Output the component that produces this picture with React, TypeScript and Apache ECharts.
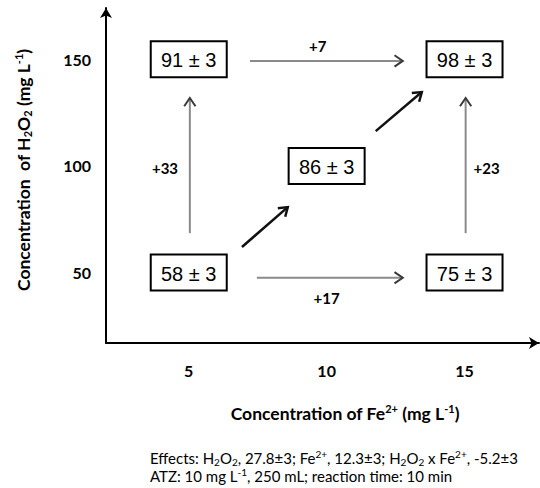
import React, { useEffect, useRef } from "react";
import * as echarts from "echarts";

// Factor levels
const xTicks = [5, 10, 15]; // Fe2+ (mg/L)
const yTicks = [50, 100, 150]; // H2O2 (mg/L)

// Design points: Fe2+, H2O2, removal (%), error
const cellFe = [5, 15, 10, 5, 15];
const cellH2O2 = [150, 150, 100, 50, 50];
const cellRemoval = [91, 98, 86, 58, 75];
const cellError = [3, 3, 3, 3, 3];

// Arrows between design points (data units): [x1, y1, x2, y2]
const arrowStart = [
  [7.22, 149.2],
  [7.47, 47.6],
  [5.04, 68.5],
  [15.04, 68.5],
  [6.93, 62],
  [11.78, 116.3],
];
const arrowEnd = [
  [12.76, 149.2],
  [12.76, 47.6],
  [5.04, 131.8],
  [15.04, 131.8],
  [8.59, 80.7],
  [13.45, 134.6],
];
const arrowDiagonal = [0, 0, 0, 0, 1, 1];

// Effect labels
const effectText = ["+7", "+17", "+33", "+23"];
const effectX = [9.68, 10.0, 4.14, 15.8];
const effectY = [156.4, 38.2, 99.2, 98.8];

const LATO = "Lato, 'Open Sans', sans-serif";

export default function App() {
  const ref = useRef<HTMLDivElement>(null);

  useEffect(() => {
    if (!ref.current) return;
    const chart = echarts.init(ref.current, null, { renderer: "svg" });

    const boxData = cellFe.map((x, i) => [x, cellH2O2[i], cellRemoval[i], cellError[i]]);
    const arrowData = arrowStart.map((s, i) => [s[0], s[1], arrowEnd[i][0], arrowEnd[i][1], arrowDiagonal[i]]);
    const effectData = effectText.map((t, i) => [effectX[i], effectY[i], t]);

    const titleRich = {
      b: { fontFamily: LATO, fontWeight: "bold", fontSize: 17.5, lineHeight: 20, fill: "#000", color: "#000" },
      sub: { fontFamily: LATO, fontWeight: "bold", fontSize: 11, lineHeight: 11, verticalAlign: "bottom", fill: "#000", color: "#000" },
      sup: { fontFamily: LATO, fontWeight: "bold", fontSize: 11, lineHeight: 11, verticalAlign: "top", fill: "#000", color: "#000" },
    };
    const noteRich = {
      r: { fontFamily: LATO, fontSize: 15, lineHeight: 18, fill: "#000", color: "#000" },
      sub: { fontFamily: LATO, fontSize: 10, lineHeight: 10, verticalAlign: "bottom", fill: "#000", color: "#000" },
      sup: { fontFamily: LATO, fontSize: 10, lineHeight: 10, verticalAlign: "top", fill: "#000", color: "#000" },
    };

    const option: any = {
      animation: false,
      backgroundColor: "#fff",
      grid: { left: 106, top: 8, right: 1, bottom: 145, containLabel: false },
      xAxis: {
        type: "value",
        min: 2,
        max: 17.7,
        splitLine: { show: false },
        axisTick: { show: false },
        axisLine: {
          show: true,
          symbol: ["none", "arrow"],
          symbolSize: [9, 10],
          lineStyle: { color: "#000", width: 2 },
        },
        axisLabel: {
          customValues: xTicks,
          margin: 19,
          fontFamily: LATO,
          fontWeight: "bold",
          fontSize: 16,
          color: "#000",
        },
      },
      yAxis: {
        type: "value",
        min: 17,
        max: 174,
        splitLine: { show: false },
        axisTick: { show: false },
        axisLine: {
          show: true,
          symbol: ["none", "arrow"],
          symbolSize: [9, 10],
          lineStyle: { color: "#000", width: 2 },
        },
        axisLabel: {
          customValues: yTicks,
          margin: 15,
          fontFamily: LATO,
          fontWeight: "bold",
          fontSize: 16,
          color: "#000",
        },
      },
      graphic: [
        {
          type: "text",
          x: 345,
          y: 413,
          style: {
            text: "{b|Concentration of Fe}{sup|2+}{b| (mg L}{sup|-1}{b|)}",
            align: "center",
            verticalAlign: "middle",
            textAlign: "center",
            textVerticalAlign: "middle",
            rich: titleRich,
          },
        },
        {
          type: "text",
          x: 23,
          y: 170,
          rotation: Math.PI / 2,
          style: {
            text: "{b|Concentration  of H}{sub|2}{b|O}{sub|2}{b| (mg L}{sup|-1}{b|)}",
            align: "center",
            verticalAlign: "middle",
            textAlign: "center",
            textVerticalAlign: "middle",
            rich: titleRich,
          },
        },
        {
          type: "text",
          x: 150,
          y: 458,
          style: {
            text: "{r|Effects: H}{sub|2}{r|O}{sub|2}{r|, 27.8±3; Fe}{sup|2+}{r|, 12.3±3; H}{sub|2}{r|O}{sub|2}{r| x Fe}{sup|2+}{r|, -5.2±3}",
            align: "left",
            verticalAlign: "middle",
            textAlign: "left",
            textVerticalAlign: "middle",
            rich: noteRich,
          },
        },
        {
          type: "text",
          x: 150,
          y: 476,
          style: {
            text: "{r|ATZ: 10 mg L}{sup|-1}{r|, 250 mL; reaction time: 10 min}",
            align: "left",
            verticalAlign: "middle",
            textAlign: "left",
            textVerticalAlign: "middle",
            rich: noteRich,
          },
        },
      ],
      series: [
        {
          type: "custom",
          name: "arrows",
          data: arrowData,
          encode: { x: [0, 2], y: [1, 3] },
          renderItem: (params: any, api: any) => {
            const p1 = api.coord([api.value(0), api.value(1)]);
            const p2 = api.coord([api.value(2), api.value(3)]);
            const diag = api.value(4) === 1;
            const ang = Math.atan2(p2[1] - p1[1], p2[0] - p1[0]);
            const L = 10;
            const spread = 0.6;
            const a1 = [p2[0] - L * Math.cos(ang - spread), p2[1] - L * Math.sin(ang - spread)];
            const a2 = [p2[0] - L * Math.cos(ang + spread), p2[1] - L * Math.sin(ang + spread)];
            const lineColor = diag ? "#111" : "#8a8a8a";
            const headColor = diag ? "#111" : "#3a3a3a";
            return {
              type: "group",
              children: [
                {
                  type: "line",
                  shape: { x1: p1[0], y1: p1[1], x2: p2[0], y2: p2[1] },
                  style: { stroke: lineColor, lineWidth: diag ? 2.5 : 2 },
                },
                {
                  type: "polyline",
                  shape: { points: [a1, p2, a2] },
                  style: { stroke: headColor, lineWidth: diag ? 2.5 : 2, fill: "none" },
                },
              ],
            };
          },
          z: 2,
        },
        {
          type: "custom",
          name: "cells",
          data: boxData,
          encode: { x: 0, y: 1 },
          renderItem: (params: any, api: any) => {
            const p = api.coord([api.value(0), api.value(1)]);
            const w = 76;
            const h = 36;
            return {
              type: "group",
              children: [
                {
                  type: "rect",
                  shape: { x: p[0] - w / 2, y: p[1] - h / 2, width: w, height: h },
                  style: { fill: "#fff", stroke: "#000", lineWidth: 2 },
                },
                {
                  type: "text",
                  style: {
                    text: `${api.value(2)} ± ${api.value(3)}`,
                    x: p[0],
                    y: p[1] + 1,
                    align: "center",
                    verticalAlign: "middle",
                    textAlign: "center",
                    textVerticalAlign: "middle",
                    fontFamily: "'Liberation Sans', Arial, sans-serif",
                    fontSize: 20,
                    fill: "#000",
                  },
                },
              ],
            };
          },
          z: 3,
        },
        {
          type: "custom",
          name: "effects",
          data: effectData,
          encode: { x: 0, y: 1 },
          renderItem: (params: any, api: any) => {
            const p = api.coord([api.value(0), api.value(1)]);
            return {
              type: "text",
              style: {
                text: effectText[params.dataIndex],
                x: p[0],
                y: p[1],
                align: "center",
                verticalAlign: "middle",
                textAlign: "center",
                textVerticalAlign: "middle",
                fontFamily: LATO,
                fontWeight: "bold",
                fontSize: 15,
                fill: "#000",
              },
            };
          },
          z: 4,
        },
      ],
    };

    chart.setOption(option);
    return () => chart.dispose();
  }, []);

  return (
    <div
      ref={ref}
      style={{ position: "fixed", left: 0, top: 0, width: 540, height: 488, background: "#fff" }}
    />
  );
}
